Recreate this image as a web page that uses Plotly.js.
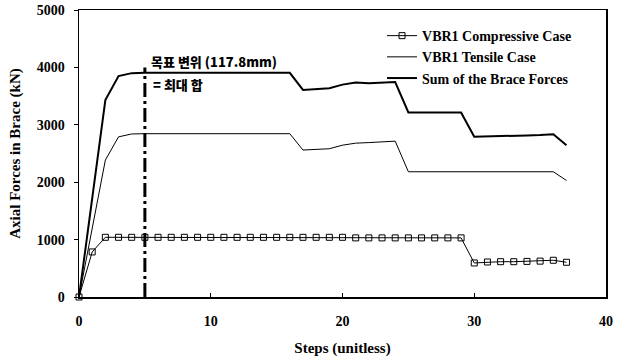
<!DOCTYPE html>
<html>
<head>
<meta charset="utf-8">
<script src="https://cdn.plot.ly/plotly-3.0.1.min.js"></script>
<style>html,body{margin:0;padding:0;background:#fff;}#chart{width:628px;height:357px;}</style>
</head>
<body>
<div id="chart"></div>
<script>
// Data
var compSteps = [0,1,2,3,4,5,6,7,8,9,10,11,12,13,14,15,16,17,18,19,20,21,22,23,24,25,26,27,28,29,30,31,32,33,34,35,36,37];
var compValues = [0,785,1040,1040,1040,1040,1040,1040,1040,1040,1040,1040,1040,1040,1040,1040,1040,1040,1040,1040,1040,1030,1030,1030,1030,1030,1030,1030,1030,1030,593,610,615,615,620,625,640,605];

var tensSteps = [0,2,3,4,5,6,7,8,9,10,11,12,13,14,15,16,17,18,19,20,21,22,23,24,25,26,27,28,29,30,31,32,33,34,35,36,37];
var tensValues = [0,2385,2790,2840,2845,2845,2845,2845,2845,2845,2845,2845,2845,2845,2845,2845,2560,2570,2583,2645,2680,2690,2700,2715,2182,2182,2182,2182,2182,2182,2182,2182,2182,2182,2182,2182,2030];

var sumSteps = [0,2,3,4,5,6,7,8,9,10,11,12,13,14,15,16,17,18,19,20,21,22,23,24,25,26,27,28,29,30,31,32,33,34,35,36,37];
var sumValues = [0,3430,3850,3900,3905,3905,3905,3905,3905,3905,3905,3905,3905,3905,3905,3905,3607,3620,3637,3700,3737,3722,3730,3745,3215,3215,3215,3215,3215,2792,2795,2810,2805,2815,2822,2835,2645];

var targetSteps = [5,5];
var targetValues = [0,4000];

var seriesNames = ["VBR1 Compressive Case","VBR1 Tensile Case","Sum of the Brace Forces"];
var annotationTexts = ["목표 변위 (117.8mm)","= 최대 합"];

var serif = "Liberation Serif, Times New Roman, serif";
var traces = [
  {x: compSteps, y: compValues, name: seriesNames[0], mode: "lines+markers",
   line: {color: "#000", width: 1}, cliponaxis: false,
   marker: {symbol: "square-open", size: 6, color: "#000", line: {width: 1, color: "#000"}}},
  {x: tensSteps, y: tensValues, name: seriesNames[1], mode: "lines",
   line: {color: "#000", width: 1}},
  {x: sumSteps, y: sumValues, name: seriesNames[2], mode: "lines",
   line: {color: "#000", width: 2}},
  {x: targetSteps, y: targetValues, mode: "lines", showlegend: false,
   line: {color: "#000", width: 3, dash: "14px,4px,3px,4px"}}
];

var layout = {
  width: 628, height: 357,
  margin: {l: 79, r: 22, t: 10, b: 60},
  paper_bgcolor: "#fff", plot_bgcolor: "#fff",
  font: {family: serif, color: "#000", size: 13},
  showlegend: true,
  legend: {x: 0.575, y: 0.965, xanchor: "left", yanchor: "top",
    font: {family: serif, size: 14, weight: 700, color: "#000"},
    bgcolor: "rgba(0,0,0,0)", tracegroupgap: 0, itemwidth: 30},
  xaxis: {range: [0, 40], dtick: 10, tick0: 0, ticks: "inside", ticklen: 4, tickcolor: "#000",
    showgrid: false, zeroline: false, showline: true, linecolor: "#000", linewidth: 1.5, mirror: true,
    tickfont: {family: serif, size: 14, weight: 700}, ticklabelstandoff: 11,
    title: {text: "Steps (unitless)", font: {family: serif, size: 15, weight: 700}, standoff: 14}},
  yaxis: {range: [0, 5000], dtick: 1000, tick0: 0, ticks: "outside", ticklen: 4, tickcolor: "#000",
    showgrid: false, zeroline: false, showline: true, linecolor: "#000", linewidth: 1.5, mirror: true,
    tickfont: {family: serif, size: 14, weight: 700}, ticklabelstandoff: 6,
    title: {text: "Axial Forces in Brace (kN)", font: {family: serif, size: 15, weight: 700}, standoff: 12}},
  annotations: [
    {x: 5.35, y: 4110, xref: "x", yref: "y", xanchor: "left", yanchor: "middle", showarrow: false,
     text: annotationTexts[0], font: {family: "Noto Sans CJK KR", size: 13, weight: 900, color: "#000"}},
    {x: 5.5, y: 3700, xref: "x", yref: "y", xanchor: "left", yanchor: "middle", showarrow: false,
     text: annotationTexts[1], font: {family: "Noto Sans CJK KR", size: 13, weight: 900, color: "#000"}}
  ]
};

Plotly.newPlot("chart", traces, layout, {displayModeBar: false, staticPlot: true});
</script>
</body>
</html>
